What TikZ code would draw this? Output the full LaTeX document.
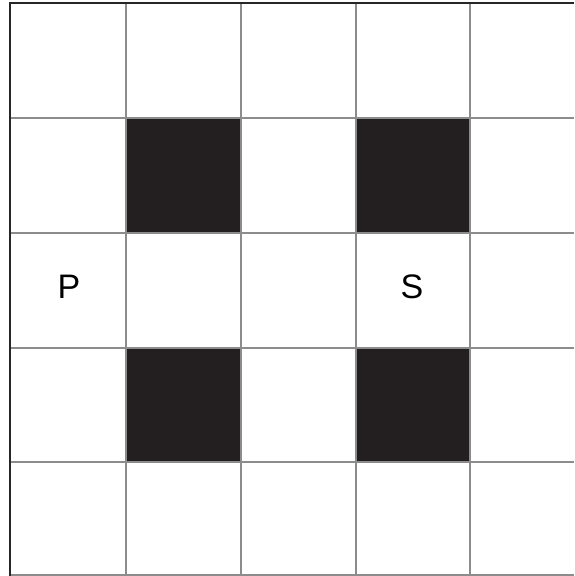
\documentclass[tikz,border=0pt]{standalone}
\usepackage{fontspec}
\setmainfont{Liberation Sans}
\definecolor{ink}{HTML}{231F20}
\begin{document}
\begin{tikzpicture}[x=1pt,y=-1pt,
  block/.style={fill=ink},
  gridline/.style={draw=black!45,line width=1.3pt},
  celltext/.style={font=\fontsize{34}{34}\selectfont}]
  \useasboundingbox (0,0) rectangle (574,576);
  \fill[white] (0,0) rectangle (574,576);
  \foreach \x/\y in {126/118,356/118,126/348,356/348}
    \fill[block] (\x,\y) rectangle +(115,115);
  \foreach \x in {126,241,356,470}
    \draw[gridline] (\x,3) -- (\x,575);
  \foreach \y in {118,233,348,462,575}
    \draw[gridline] (10,\y) -- (574,\y);
  \draw[line width=2.2pt,black!85] (10,576) -- (10,3) -- (574,3);
  \node[celltext] (p) at (69,287) {P};
  \node[celltext] (s) at (412,287) {S};
\end{tikzpicture}
\end{document}
